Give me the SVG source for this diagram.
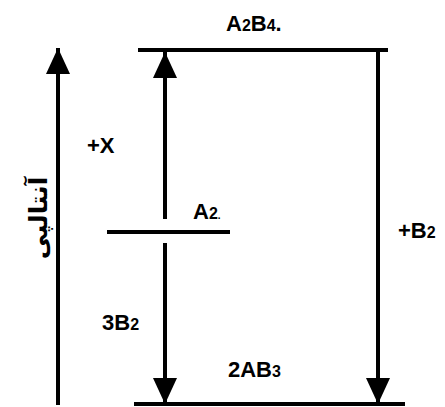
<svg xmlns="http://www.w3.org/2000/svg" width="445" height="407" viewBox="0 0 445 407">
<style>
.lvl{stroke:#000;stroke-width:4;fill:none}
.conn{stroke:#000;stroke-width:4;fill:none}
.lbl{font-family:"Liberation Sans",Arial,sans-serif;font-weight:bold;font-size:22px;fill:#000}
.sub{font-size:16px}
.fa{font-family:"DejaVu Sans","Noto Sans",sans-serif;font-weight:bold;font-size:25px;fill:#000}
</style>
<defs>
<marker id="tip" markerUnits="userSpaceOnUse" markerWidth="26" markerHeight="24" viewBox="0 0 26 24" refX="26" refY="12" orient="auto">
<path d="M0,0 L26,12 L0,24 z" fill="#000"/>
</marker>
</defs>
<rect width="445" height="407" fill="#fff"/>
<g id="level-top">
<line class="lvl" x1="138" y1="50" x2="388" y2="50"/>
<text class="lbl" x="226" y="31" font-size="24">A<tspan class="sub">2</tspan>B<tspan class="sub">4</tspan>.</text>
</g>
<g id="level-mid">
<line class="lvl" x1="107" y1="232" x2="230" y2="232"/>
<text class="lbl" x="193" y="219">A<tspan class="sub">2</tspan><tspan font-size="10">.</tspan></text>
</g>
<g id="level-bottom">
<line class="lvl" x1="134" y1="404" x2="405" y2="404"/>
<text class="lbl" x="228" y="377">2AB<tspan class="sub">3</tspan></text>
</g>
<g id="axis-label">
<text class="fa" transform="translate(39,218) rotate(-90)" text-anchor="middle" y="8">آنتالپی</text>
</g>
<g id="connectors">
<line class="conn" x1="58" y1="405" x2="58" y2="48" marker-end="url(#tip)"/>
<line class="conn" x1="165" y1="219" x2="165" y2="52" marker-end="url(#tip)"/>
<line class="conn" x1="165" y1="243" x2="165" y2="404" marker-end="url(#tip)"/>
<line class="conn" x1="378" y1="50" x2="378" y2="404" marker-end="url(#tip)"/>
<text class="lbl" x="87" y="153">+X</text>
<text class="lbl" x="102" y="330">3B<tspan class="sub">2</tspan></text>
<text class="lbl" x="398" y="238">+B<tspan class="sub">2</tspan></text>
</g>
</svg>
